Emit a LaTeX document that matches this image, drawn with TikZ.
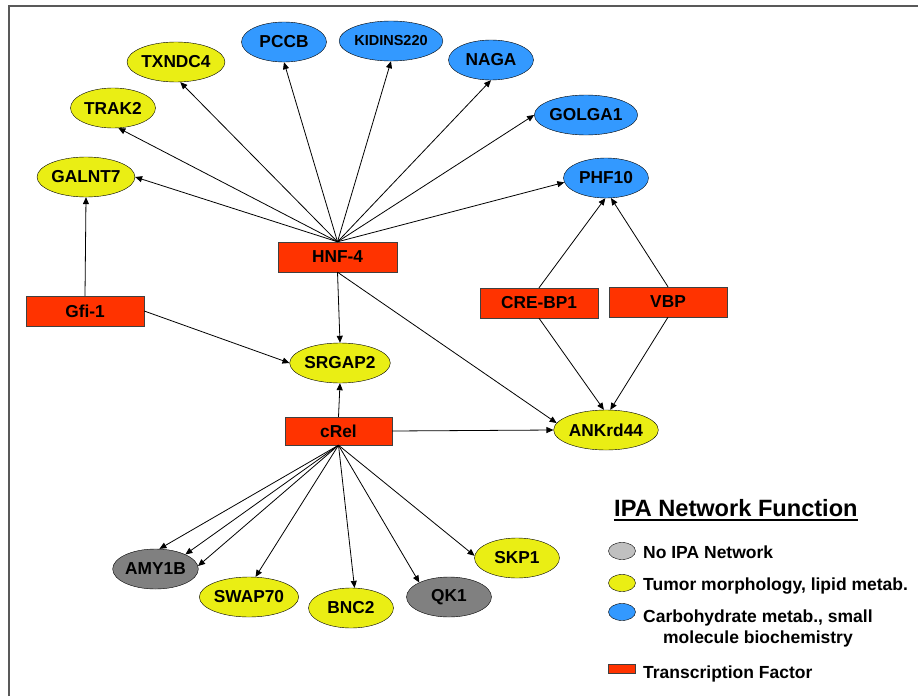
\documentclass[tikz,border=0pt]{standalone}
\usepackage{fontspec}
\setmainfont{Liberation Sans}
\usetikzlibrary{shapes.geometric,arrows.meta,positioning}
\definecolor{ipayellow}{RGB}{234,238,20}
\definecolor{ipablue}{RGB}{51,153,255}
\definecolor{ipared}{RGB}{255,51,0}
\definecolor{ipagray}{RGB}{128,128,128}
\definecolor{keygray}{RGB}{192,192,192}

\begin{document}
\begin{tikzpicture}[x = 1pt, y = -1pt, >={Triangle[length=7pt,width=6pt]},
	gene/.style = {draw, ellipse, minimum width = 85pt, minimum height = 40pt, inner sep = 0pt, font = \bfseries\fontsize{17.3}{20}\selectfont},
	yel/.style = {gene, fill = ipayellow},
	blu/.style = {gene, fill = ipablue},
	gry/.style = {gene, fill = ipagray},
	tf/.style = {draw = black!75, fill = ipared, minimum width = 118pt, minimum height = 30pt, inner sep = 0pt, font = \bfseries\fontsize{17.3}{20}\selectfont},
	key/.style = {draw, ellipse, minimum width = 27pt, minimum height = 17pt, inner sep = 0pt},
	keytext/.style = {anchor = base west, inner sep = 0pt, font = \bfseries\fontsize{17.5}{20}\selectfont},
	edge/.style = {->, line width = 0.8pt}]
				\useasboundingbox (0,0) rectangle (918,696);
				\draw[black!65, line width = 1.2pt] (9,696) -- (9,6) -- (918,6);
				% targets of HNF-4
				\node[yel] (galnt) at (86,177) {GALNT7};
				\node[yel] (trak) at (113,108) {TRAK2};
				\node[yel] (txndc) at (176,62) {TXNDC4};
				\node[blu] (pccb) at (284,42) {PCCB};
				\node[blu, font = \bfseries\fontsize{14.5}{17}\selectfont] (kidins) at (391,41) {KIDINS220};
				\node[blu] (naga) at (491,60) {NAGA};
				\node[blu] (golga) at (586,115) {GOLGA1};
				\node[blu] (phf) at (606,178) {PHF10};
				% transcription factors
				\node[tf, minimum width = 119pt] (hnf) at (337.5,257) {HNF-4};
				\node[tf] (gfi) at (85,311) {Gfi-1};
				\node[tf] (crebp) at (539,303) {CRE-BP1};
				\node[tf] (vbp) at (668,302) {VBP};
				\node[tf, minimum width = 107pt, minimum height = 28pt] (crel) at (338.5,431) {cRel};
				\node[yel] (srgap) at (340,363) {SRGAP2};
				\node[yel] (ankrd) at (606,430) {ANKrd44};
				% targets of cRel
				\node[gry] (amy) at (155.5,569) {AMY1B};
				\node[yel] (swap) at (249,597) {SWAP70};
				\node[yel] (bnc) at (351,608) {BNC2};
				\node[gry] (qk) at (449,597) {QK1};
				\node[yel] (skp) at (517,558) {SKP1};
				\draw[edge] (hnf.north) -- (galnt.east);
				\draw[edge] (hnf.north) -- (trak.-75);
				\draw[edge] (hnf.north) -- (txndc.-78);
				\draw[edge] (hnf.north) -- (pccb.south);
				\draw[edge] (hnf.north) -- (kidins.south);
				\draw[edge] (hnf.north) -- (naga.south);
				\draw[edge] (hnf.north) -- (golga.west);
				\draw[edge] (hnf.north) -- (phf.186);
				\draw[edge] (hnf.south) -- (srgap.north);
				\draw[edge] (hnf.south) -- (ankrd.172);
				\draw[edge] (gfi.north) -- (galnt.south);
				\draw[edge] (gfi.east) -- (srgap.west);
				\draw[edge] (crebp.north) -- (phf.-92);
				\draw[edge] (vbp.north) -- (phf.-76);
				\draw[edge] (crebp.south) -- (ankrd.96);
				\draw[edge] (vbp.south) -- (ankrd.78);
				\draw[edge] (crel.north) -- (srgap.south);
				\draw[edge] (crel.east) -- (ankrd.west);
				\draw[edge] (crel.south) -- (amy.79);
				\draw[edge] (crel.south) -- (amy.26);
				\draw[edge] (crel.south) -- (amy.4);
				\draw[edge] (crel.south) -- (swap.72);
				\draw[edge] (crel.south) -- (bnc.80);
				\draw[edge] (crel.south) -- (qk.154);
				\draw[edge] (crel.south) -- (skp.177);
				% legend
				\node[keytext, font = \bfseries\fontsize{23.6}{26}\selectfont] (title) at (614,516) {IPA Network Function};
				\draw[line width = 2pt] ([yshift=-4pt]title.base west) -- ([yshift=-4pt]title.base east);
				\node[key, fill = keygray] (kgray) at (622,551) {};
				\node[key, fill = ipayellow] (kyel) at (622,583) {};
				\node[key, fill = ipablue] (kblu) at (622,612) {};
				\node[draw = black!75, fill = ipared, minimum width = 27pt, minimum height = 9pt, inner sep = 0pt] (kred) at (622,668.5) {};
				\node[keytext] (tnone) at (643,558) {No IPA Network};
				\node[keytext] (ttumor) at (643,590) {Tumor morphology, lipid metab.};
				\node[keytext] (tcarb) at (643,622) {Carbohydrate metab., small};
				\node[keytext, below = 21pt of tcarb.base, anchor = base] (tmol) {molecule biochemistry};
				\node[keytext] (ttf) at (643,678) {Transcription Factor};
			\end{tikzpicture}
\end{document}
